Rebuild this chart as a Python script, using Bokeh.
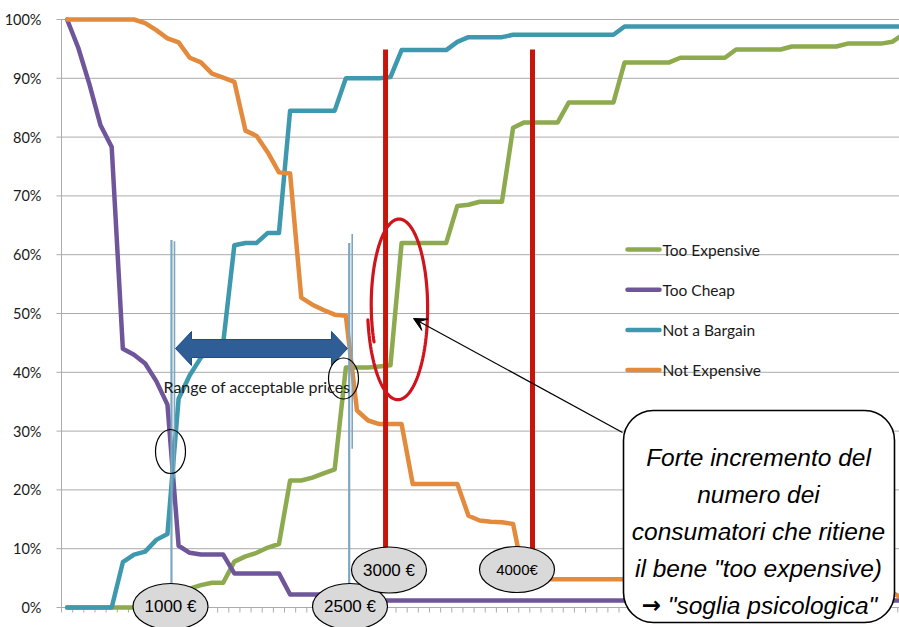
import numpy as np
from bokeh.plotting import figure
from bokeh.models import Range1d, FixedTicker, BoxAnnotation, Label, Arrow, VeeHead
from bokeh.core.properties import value
from bokeh.embed import file_html
from bokeh.resources import INLINE

# Cumulative share of respondents (%) at each surveyed price point, one value per category
too_expensive = [0, 0, 0, 0, 0, 0, 0, 0, 0, 1.2,
                 2.6, 3.2, 3.8, 4.2, 4.2, 7.8, 8.7, 9.3, 10.2, 10.8,
                 21.6, 21.6, 22.1, 22.8, 23.5, 40.8, 40.8, 40.8, 41.0, 41.2,
                 62.0, 62.0, 62.0, 62.0, 62.0, 68.3, 68.5, 69.0, 69.0, 69.0,
                 81.6, 82.5, 82.5, 82.5, 82.5, 85.9, 85.9, 85.9, 85.9, 85.9,
                 92.7, 92.7, 92.7, 92.7, 92.7, 93.5, 93.5, 93.5, 93.5, 93.5,
                 94.9, 94.9, 94.9, 94.9, 94.9, 95.4, 95.4, 95.4, 95.4, 95.4,
                 95.9, 95.9, 95.9, 95.9, 96.2, 97.5]
too_cheap = [100, 95.2, 89.0, 82.0, 78.3, 44.0, 43.0, 41.5, 38.5, 34.5,
             10.5, 9.3, 9.0, 9.0, 9.0, 5.8, 5.8, 5.8, 5.8, 5.8,
             2.2, 2.2, 2.2, 2.2, 1.2] + [1.2] * 51
not_bargain = [0, 0, 0, 0, 0, 7.7, 9.0, 9.5, 11.5, 12.5,
               35.5, 39.5, 42.5, 44.0, 45.0, 61.6, 62.0, 62.0, 63.7, 63.7,
               84.5, 84.5, 84.5, 84.5, 84.5, 90.0, 90.0, 90.0, 90.0, 90.2,
               94.8, 94.8, 94.8, 94.8, 94.8, 96.2, 97.0, 97.0, 97.0, 97.0] + [97.4] * 10 + [98.8] * 26
not_expensive = [100, 100, 100, 100, 100, 100, 100, 99.4, 98.2, 96.8,
                 96.1, 93.5, 92.7, 90.8, 90.1, 89.4, 81.1, 80.2, 77.4, 74.0,
                 73.8, 52.7, 51.5, 50.6, 49.8, 49.6, 33.5, 31.8, 31.2, 31.2,
                 31.2, 21.0, 21.0, 21.0, 21.0, 21.0, 15.6, 14.8, 14.6, 14.5,
                 14.2, 4.9] + [4.8] * 32 + [2.5, 1.5]

series_names = ["Too Expensive", "Too Cheap", "Not a Bargain", "Not Expensive"]
series_values = [too_expensive, too_cheap, not_bargain, not_expensive]
series_colors = ["#8DAA4E", "#6F569B", "#3E98AE", "#E48A3C"]

pct_ticks = list(range(0, 101, 10))
pct_labels = [f"{t}%" for t in pct_ticks]

# Price thresholds marked on the chart (position on the category axis)
range_marks = [9.36, 25.3]          # ends of the acceptable price range
range_labels = ["1000 €", "2500 €"]
threshold_marks = [28.56, 41.74]    # psychological thresholds
threshold_labels = ["3000 €", "4000€"]

# ---- page geometry -------------------------------------------------------
W, H = 899, 627
LEFT = 52
CX0, CSTEP = 66.6, 11.15   # pixel centre of category 0 and category pitch
PY0, PYSTEP = 607.0, 5.88  # pixel row of 0% and pixels per percent


def ix(px):
    return (px - CX0) / CSTEP


def iy(py):
    return (PY0 - py) / PYSTEP


LABEL_FONT = "Lato"
BUBBLE_FONT = "Liberation Sans"
NOTE_FONT = "Liberation Sans"

p = figure(width=W, height=H, output_backend="svg", toolbar_location=None,
           x_range=Range1d(ix(LEFT), ix(W)), y_range=Range1d(iy(H), iy(0)),
           x_axis_location=None, y_axis_location="left",
           min_border_left=LEFT, min_border_right=0, min_border_top=0, min_border_bottom=0,
           outline_line_color=None, background_fill_color="white", border_fill_color="white")
p.xgrid.visible = False
p.ygrid.visible = False

ax = p.yaxis[0]
ax.ticker = FixedTicker(ticks=pct_ticks)
ax.major_label_overrides = {t: lab for t, lab in zip(pct_ticks, pct_labels)}
ax.axis_line_color = None
ax.major_tick_line_color = None
ax.minor_tick_line_color = None
ax.major_label_standoff = 5
ax.major_label_text_font = LABEL_FONT
ax.major_label_text_font_size = "14.5px"
ax.major_label_text_color = "#1a1a1a"

n = len(too_expensive)
idx = np.arange(n)

# gridlines, axis line and category tick marks
GRID = "#ABABAB"
p.segment(x0=ix(56), y0=pct_ticks, x1=ix(W) + 1, y1=pct_ticks, line_color=GRID, line_width=1)
p.segment(x0=[-0.5], y0=[0], x1=[-0.5], y1=[100], line_color=GRID, line_width=1)
edges = np.arange(n + 1) - 0.5
p.segment(x0=edges, y0=0, x1=edges, y1=-0.85, line_color=GRID, line_width=1)

# the four cumulative curves
for vals, col in zip(series_values, series_colors):
    p.line(idx, vals, line_color=col, line_width=4.5, line_join="round", line_cap="round")

# legend
for k, (name, col) in enumerate(zip(series_names, series_colors)):
    yy = iy(249 + 40.2 * k)
    p.segment(x0=[ix(627)], y0=[yy], x1=[ix(659)], y1=[yy], line_color=col, line_width=4.5, line_cap="round")
    p.text(x=[ix(662)], y=[yy], text=[name], text_font=value(LABEL_FONT), text_font_size="15.5px",
           text_baseline="middle", text_align="left", text_color="#1a1a1a")

# range of acceptable prices: vertical markers and the double arrow
p.segment(x0=range_marks, y0=[4, 4], x1=range_marks, y1=[62.5, 62.0], line_color="#7EA6BF", line_width=2.2)
p.segment(x0=[m + 0.27 for m in range_marks], y0=[22, 27], x1=[m + 0.27 for m in range_marks],
          y1=[62.3, 63.5], line_color="#7EA6BF", line_width=1.6)

arrow_px = [(175, 348), (191, 331), (191, 339), (331, 339), (331, 331), (347, 348),
            (331, 365), (331, 357), (191, 357), (191, 365)]
p.patch([ix(a) for a, b in arrow_px], [iy(b) for a, b in arrow_px],
        fill_color="#2F5E97", line_color="#234C7C", line_width=1)
p.text(x=[ix(163)], y=[iy(386)], text=["Range of acceptable prices"], text_font=value(LABEL_FONT),
       text_font_size="16px", text_baseline="middle", text_align="left", text_color="#1a1a1a")

# small circles at the curve crossings
p.ellipse(x=[ix(170), ix(343)], y=[iy(451), iy(378)], width=[30, 30], height=[44, 41],
          width_units="screen", height_units="screen", fill_alpha=0, line_color="black", line_width=1.2)

# psychological thresholds
p.segment(x0=threshold_marks, y0=[8, 8], x1=threshold_marks, y1=[94.9, 94.9], line_color="#C8150C", line_width=5)

# hand-drawn loop around the jump of "Too Expensive"
theta = np.radians(np.linspace(205, -172, 160))
grow = np.linspace(0.90, 1.03, theta.size)
loop_x = [ix(398 + 30 * g * np.cos(t)) for g, t in zip(grow, theta)]
loop_y = [iy(306 - 93 * g * np.sin(t)) for g, t in zip(grow, theta)]
p.line(loop_x, loop_y, line_color="#D0141C", line_width=3.2, line_cap="round")

# price bubbles
bub_x = [ix(170), ix(349.5), ix(388.5), ix(516.5)]
bub_y = [iy(606), iy(606), iy(569.5), iy(569)]
bub_t = range_labels + threshold_labels
p.ellipse(x=bub_x, y=bub_y, width=75, height=46, width_units="screen", height_units="screen",
          fill_color="#D9D9D9", line_color="black", line_width=1.2)
p.text(x=bub_x, y=bub_y, text=bub_t, text_font=value(BUBBLE_FONT), text_font_size=["17px", "17px", "17px", "15px"],
       text_align="center", text_baseline="middle", text_color="black")

# callout
p.add_layout(Arrow(end=VeeHead(size=13, fill_color="black", line_color="black"),
                   x_start=ix(622), y_start=iy(432), x_end=ix(413), y_end=iy(318),
                   line_color="black", line_width=1.2))
p.add_layout(BoxAnnotation(left=ix(623), right=ix(894), top=iy(410), bottom=iy(622),
                           fill_color="white", fill_alpha=1.0, line_color="black", line_alpha=1.0,
                           line_width=1.6, border_radius=30))
callout_lines = ["Forte incremento del", "numero dei", "consumatori che ritiene",
                 "il bene \"too expensive)"]
for k, t in enumerate(callout_lines):
    p.add_layout(Label(x=ix(758), y=iy(456.5 + 37 * k), text=t, text_font=NOTE_FONT,
                       text_font_style="italic", text_font_size="24.5px", text_align="center",
                       text_baseline="alphabetic", text_color="black"))
p.add_layout(Label(x=ix(651), y=iy(604), text="\u2192", text_font="DejaVu Sans",
                   text_font_style="bold", text_font_size="23px", text_align="center",
                   text_baseline="alphabetic", text_color="black"))
p.add_layout(Label(x=ix(772), y=iy(604.5), text="\"soglia psicologica\"", text_font=NOTE_FONT,
                   text_font_style="italic", text_font_size="24.5px", text_align="center",
                   text_baseline="alphabetic", text_color="black"))

open("out.html", "w").write(file_html(p, INLINE))
